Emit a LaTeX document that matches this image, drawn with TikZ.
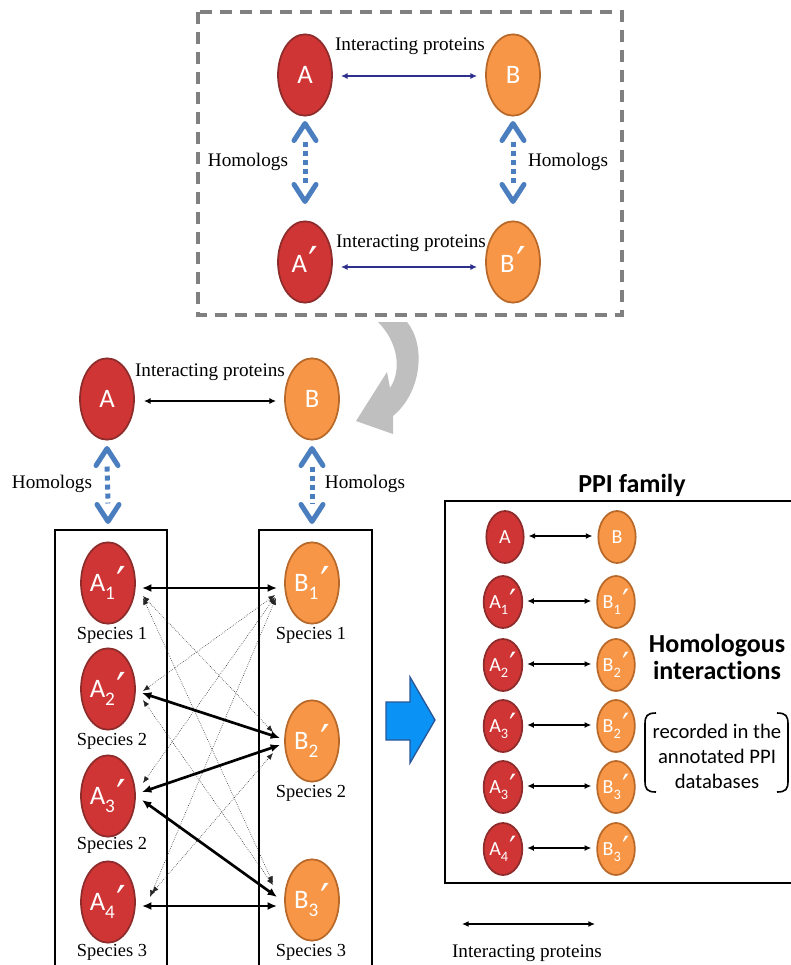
\documentclass[tikz,border=0pt]{standalone}
\usepackage{fontspec}
\setmainfont{Liberation Serif}
\newfontfamily\carl{Carlito}
\newfontfamily\djv{DejaVu Sans}
\usetikzlibrary{shapes.geometric,arrows.meta,calc}
\definecolor{nred}{HTML}{CF3535}
\definecolor{nredd}{HTML}{8E2B2B}
\definecolor{nora}{HTML}{F79646}
\definecolor{norad}{HTML}{B8692A}
\definecolor{hblue}{HTML}{4A7EBF}
\definecolor{navy}{HTML}{2E2E8C}
\definecolor{bigblue}{HTML}{0A93F5}
\definecolor{bigblued}{HTML}{2A5698}
\definecolor{grayarr}{HTML}{BFBFBF}
\definecolor{dashgray}{HTML}{808080}
\newcommand\pr{\kern0.06em{\djv\raisebox{-0.2em}{\scalebox{1.6}{′}}}}
\newcommand\sbs[1]{\raisebox{-0.3em}{\fontsize{0.72em}{0.8em}\selectfont #1}}
\tikzset{
  ellbase/.style={ellipse, line width=1.3pt, inner sep=0pt, text=white},
  redbig/.style={ellbase, fill=nred, draw=nredd, minimum width=40.5pt, minimum height=61pt, font=\carl\fontsize{20}{22}\selectfont},
  orbig/.style={ellbase, fill=nora, draw=norad, minimum width=40.5pt, minimum height=61pt, font=\carl\fontsize{20}{22}\selectfont},
  redsm/.style={ellbase, fill=nred, draw=nredd, minimum width=28pt, minimum height=39pt, font=\carl\fontsize{15}{17}\selectfont},
  orsm/.style={ellbase, fill=nora, draw=norad, minimum width=28pt, minimum height=39pt, font=\carl\fontsize{15}{17}\selectfont},
  lbl/.style={inner sep=0pt, font=\fontsize{14.4}{16}\selectfont},
  spec/.style={inner sep=0pt, font=\fontsize{13.8}{15}\selectfont},
  boxline/.style={draw=black, line width=1.6pt},
  dbox/.style={draw=dashgray, line width=2.4pt, dash pattern=on 9pt off 6pt},
  navyarrow/.style={draw=navy, line width=1.2pt, {Latex[length=5pt,width=4.5pt]}-{Latex[length=5pt,width=4.5pt]}},
  blkarrow/.style={draw=black, line width=1.5pt, {Latex[length=5pt,width=4.5pt]}-{Latex[length=5pt,width=4.5pt]}},
  thickarrow/.style={draw=black, line width=2pt, {Latex[length=7pt,width=6pt]}-{Latex[length=7pt,width=6pt]}},
  thinarrow/.style={draw=black!85, line width=0.45pt, densely dotted, {Latex[length=5pt,width=4pt]}-{Latex[length=5pt,width=4pt]}},
  homshaft/.style={draw=hblue, line width=3.75pt, dash pattern=on 3.75pt off 3pt},
  homhead/.style={draw=hblue, line width=3.75pt, line cap=round, line join=round},
}
\newcommand\homolarrow[2]{%
  \draw[homshaft] ($(#1)+(0,18)$) -- ($(#2)+(0,-18)$);
  \draw[homhead] ($(#1)+(-11,17)$) -- (#1) -- ($(#1)+(11,17)$);
  \draw[homhead] ($(#2)+(-11,-17)$) -- (#2) -- ($(#2)+(11,-17)$);
}
\begin{document}
\begin{tikzpicture}[x=0.75pt,y=-0.75pt]
\useasboundingbox (0,0) rectangle (790,965);

% ---------- top dashed panel ----------
\draw[dbox] (198,12) rectangle (622,315);
\node[redbig] (tA) at (305,75) {A};
\node[orbig] (tB) at (513,75) {B};
\node[redbig] (tA2) at (305,262) {A\pr};
\node[orbig] (tB2) at (513,262) {B\pr};
\draw[navyarrow] ($(tA.east)+(8,1)$) -- ($(tB.west)+(-8,1)$);
\draw[navyarrow] ($(tA2.east)+(8,5)$) -- ($(tB2.west)+(-8,5)$);
\node[lbl] (tl1) at (410,46) {Interacting proteins};
\node[lbl] (tl2) at (411,243) {Interacting proteins};
\node[lbl] (th1) at (248,162) {Homologs};
\node[lbl] (th2) at (568,162) {Homologs};
\coordinate (tha1) at ($(tA.south)+(0,7)$);
\coordinate (tha2) at ($(tA2.north)+(0,-19)$);
\coordinate (thb1) at ($(tB.south)+(0,7)$);
\coordinate (thb2) at ($(tB2.north)+(0,-19)$);
\homolarrow{tha1}{tha2}
\homolarrow{thb1}{thb2}

% ---------- gray curved arrow ----------
\fill[grayarr] (378,322) .. controls (398,342) and (402,370) .. (390,388)
  -- (387,372) -- (356,421) -- (393,434) -- (393,416)
  .. controls (422,392) and (426,345) .. (407,322) -- cycle;

% ---------- middle pair ----------
\node[redbig] (mA) at (107,399) {A};
\node[orbig] (mB) at (312,399) {B};
\draw[blkarrow] ($(mA.east)+(9,2)$) -- ($(mB.west)+(-8,2)$);
\node[lbl] (ml) at (210,372) {Interacting proteins};
\node[lbl] (mh1) at (52,484) {Homologs};
\node[lbl] (mh2) at (365,484) {Homologs};

% ---------- species boxes ----------
\draw[boxline] (55,968) -- (55,530) -- (167,530) -- (167,968);
\draw[boxline] (259,968) -- (259,530) -- (372,530) -- (372,968);

\node[redbig] (A1) at (108,583) {A\sbs{1}\pr};
\node[redbig] (A2) at (108,689) {A\sbs{2}\pr};
\node[redbig] (A3) at (108,796) {A\sbs{3}\pr};
\node[redbig] (A4) at (108,902) {A\sbs{4}\pr};
\node[orbig] (B1) at (312,583) {B\sbs{1}\pr};
\node[orbig] (B2) at (312,741) {B\sbs{2}\pr};
\node[orbig] (B3) at (312,900) {B\sbs{3}\pr};
\node[spec] (sA1) at (112,635) {Species 1};
\node[spec] (sA2) at (112,741) {Species 2};
\node[spec] (sA3) at (112,845) {Species 2};
\node[spec] (sA4) at (112,952) {Species 3};
\node[spec] (sB1) at (311,635) {Species 1};
\node[spec] (sB2) at (311,793) {Species 2};
\node[spec] (sB3) at (311,952) {Species 3};

\coordinate (mha1) at ($(mA.south)+(0,8)$);
\coordinate (mha2) at ($(A1.north)+(0,-20)$);
\coordinate (mhb1) at ($(mB.south)+(0,8)$);
\coordinate (mhb2) at ($(B1.north)+(0,-20)$);
\homolarrow{mha1}{mha2}
\homolarrow{mhb1}{mhb2}

% thin dotted interactions
\draw[thinarrow] ($(A1)+(35,13)$) -- ($(B2)+(-39,-9)$);
\draw[thinarrow] ($(A1)+(35,15)$) -- ($(B3)+(-39,-17)$);
\draw[thinarrow] ($(B1)+(-37,12)$) -- ($(A2)+(35,2)$);
\draw[thinarrow] ($(B1)+(-37,14)$) -- ($(A3)+(35,-13)$);
\draw[thinarrow] ($(B1)+(-36,15)$) -- ($(A4)+(42,-5)$);
\draw[thinarrow] ($(A2)+(35,11)$) -- ($(B3)+(-39,-15)$);
\draw[thinarrow] ($(B2)+(-39,12)$) -- ($(A4)+(44,-9)$);
% thick interactions
\draw[thickarrow] ($(A1)+(34,5)$) -- ($(B1)+(-35,5)$);
\draw[thickarrow] ($(A2)+(34,4)$) -- ($(B2)+(-32,-3)$);
\draw[thickarrow] ($(A3)+(34,-4)$) -- ($(B2)+(-32,4)$);
\draw[thickarrow] ($(A3)+(34,4)$) -- ($(B3)+(-35,-3)$);
\draw[thickarrow] ($(A4)+(34,4)$) -- ($(B3)+(-35,6)$);

% ---------- big blue arrow ----------
\filldraw[fill=bigblue, draw=bigblued, line width=1pt]
  (386,702) -- (410,702) -- (410,677) -- (435,720) -- (410,763) -- (410,740) -- (386,740) -- cycle;

% ---------- PPI family ----------
\node[inner sep=0pt, font=\carl\bfseries\fontsize{19.5}{21}\selectfont] (ppit) at (632,485) {PPI family};
\draw[boxline] (791,501) -- (445,501) -- (445,883) -- (791,883);

\node[redsm] (p0a) at (505,537) {A};
\node[orsm] (p0b) at (617,537) {B};
\node[redsm] (p1a) at (503,602) {A\sbs{1}\pr};
\node[orsm] (p1b) at (616,602) {B\sbs{1}\pr};
\node[redsm] (p2a) at (503,665) {A\sbs{2}\pr};
\node[orsm] (p2b) at (616,665) {B\sbs{2}\pr};
\node[redsm] (p3a) at (503,726) {A\sbs{3}\pr};
\node[orsm] (p3b) at (616,726) {B\sbs{2}\pr};
\node[redsm] (p4a) at (503,787) {A\sbs{3}\pr};
\node[orsm] (p4b) at (616,787) {B\sbs{3}\pr};
\node[redsm] (p5a) at (503,849) {A\sbs{4}\pr};
\node[orsm] (p5b) at (616,849) {B\sbs{3}\pr};
\foreach \i in {0,...,5}{
  \draw[blkarrow] ($(p\i a.east)+(4,-1)$) -- ($(p\i b.west)+(-5,-1)$);
}

\node[inner sep=0pt, font=\carl\bfseries\fontsize{19.5}{22}\selectfont, align=center] (homi) at (717,657) {Homologous\\[-2pt]interact\kern0pt ions};
\node[inner sep=0pt, font=\carl\fontsize{15.5}{18.7}\selectfont, align=center] (rec) at (717,756) {recorded in the\\annotated PPI\\databases};
\draw[line width=1.2pt] (656,713) .. controls (647,713) and (645,716) .. (645,724) -- (645,781) .. controls (645,789) and (647,792) .. (656,792);
\draw[line width=1.2pt] (777,713) .. controls (786,713) and (788,716) .. (788,724) -- (788,781) .. controls (788,789) and (786,792) .. (777,792);

% ---------- legend ----------
\coordinate (lg1) at (462,924);
\coordinate (lg2) at (595,924);
\draw[blkarrow] (lg1) -- (lg2);
\node[lbl] (lgl) at (527,953) {Interacting proteins};
\end{tikzpicture}
\end{document}
